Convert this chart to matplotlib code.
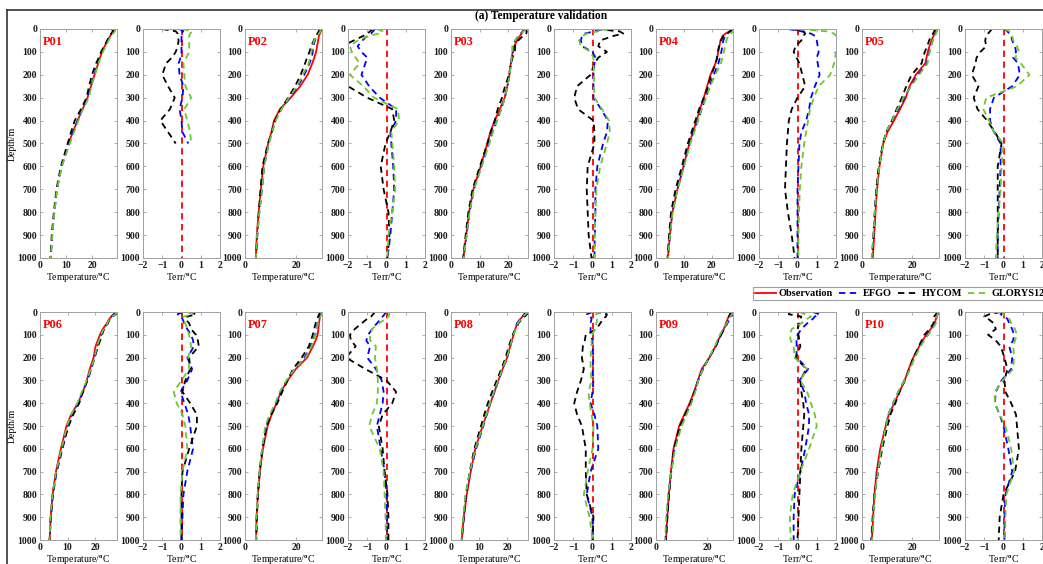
import numpy as np
import matplotlib.pyplot as plt
from matplotlib.lines import Line2D

plt.rcParams['font.family'] = ['Liberation Serif', 'DejaVu Serif']
plt.rcParams['font.weight'] = 'bold'
plt.rcParams['mathtext.fontset'] = 'custom'
plt.rcParams['mathtext.rm'] = 'Liberation Serif:bold'
plt.rcParams['mathtext.it'] = 'Liberation Serif:bold'

# depth levels (m)
depth = [0, 10, 20, 30, 50, 75, 100, 125, 150, 200, 250, 300, 350, 400, 450, 500,
         600, 700, 800, 900, 1000]

stations = ['P01', 'P02', 'P03', 'P04', 'P05', 'P06', 'P07', 'P08', 'P09', 'P10']

# observed temperature (degC); P01 only reaches 500 m
obs_p01 = [28.6, 28.2, 27.5, 26.9, 25.9, 24.8, 23.7, 23.0, 22.3, 20.9, 19.5, 18.2, 16.3, 14.4, 12.6, 10.9]
obs_p02 = [29.8, 29.6, 29.2, 28.8, 28.5, 28.1, 27.7, 27.0, 26.2, 24.4, 21.5, 17.8, 13.6, 11.3, 10.3, 9.0, 7.1, 6.2, 5.3, 4.6, 4.2]
obs_p03 = [25.3, 25.0, 24.6, 24.0, 23.0, 22.0, 21.5, 21.1, 20.8, 20.3, 19.6, 18.7, 17.0, 15.2, 13.7, 12.6, 10.3, 7.8, 6.3, 5.3, 4.3]
obs_p04 = [27.7, 26.5, 25.0, 24.0, 23.2, 22.8, 22.4, 22.0, 21.4, 19.6, 18.4, 17.2, 15.8, 14.6, 13.3, 12.0, 9.9, 7.7, 5.9, 5.0, 4.3]
obs_p05 = [29.9, 29.6, 29.2, 28.6, 27.8, 27.0, 26.3, 25.8, 25.3, 21.5, 19.0, 17.5, 15.2, 12.8, 10.2, 8.5, 7.0, 6.0, 5.4, 4.9, 4.3]
obs_p06 = [27.4, 27.0, 26.0, 25.2, 24.3, 22.8, 21.8, 21.0, 20.2, 19.5, 18.1, 17.0, 15.6, 13.8, 11.3, 9.6, 7.6, 5.8, 4.6, 3.9, 3.5]
obs_p07 = [29.8, 29.6, 29.3, 29.1, 28.8, 28.6, 28.3, 27.5, 26.5, 24.2, 19.8, 16.6, 14.0, 12.3, 10.4, 8.8, 7.0, 5.8, 5.0, 4.5, 4.3]
obs_p08 = [26.9, 26.2, 25.4, 24.6, 23.5, 22.8, 22.2, 21.6, 21.0, 19.9, 18.3, 16.8, 15.4, 14.0, 12.6, 11.2, 8.6, 7.0, 5.6, 4.5, 3.8]
obs_p09 = [30.0, 29.2, 28.3, 27.9, 27.3, 26.4, 25.3, 24.2, 23.2, 20.8, 17.8, 16.3, 14.8, 13.1, 11.0, 9.0, 6.8, 5.8, 5.0, 4.4, 3.9]
obs_p10 = [30.2, 30.0, 29.6, 29.3, 28.8, 27.2, 25.5, 24.0, 22.7, 20.3, 18.5, 16.9, 14.8, 12.8, 10.6, 9.4, 7.2, 5.8, 4.9, 4.4, 3.9]

# model minus observation (degC)
efgo_p01 = [-0.1, 0.1, -0.05, 0.0, 0.0, 0.0, 0.0, -0.05, -0.15, -0.1, 0.1, 0.05, -0.1, 0.0, 0.05, 0.35]
hycom_p01 = [-1.0, -0.3, -0.2, -0.2, -0.15, -0.2, -0.3, -0.5, -0.8, -1.0, -0.7, -0.35, -0.6, -1.1, -0.7, -0.3]
glorys_p01 = [0.05, 0.55, 0.45, 0.4, 0.4, 0.4, 0.4, 0.25, 0.1, 0.15, 0.2, 0.5, 0.15, 0.3, 0.45, 0.5]

efgo_p02 = [-0.6, -0.7, -0.8, -1.0, -1.25, -1.5, -1.3, -1.0, -1.1, -1.3, -0.9, -0.35, 0.5, 0.5, 0.2, 0.25, 0.35, 0.4, 0.3, 0.2, 0.05]
hycom_p02 = [-0.7, -0.85, -1.0, -1.2, -1.7, -2.3, -2.6, -2.8, -2.8, -2.7, -2.0, -1.0, 0.3, 0.4, 0.2, -0.05, -0.3, -0.15, 0.1, 0.15, 0.05]
glorys_p02 = [-0.5, -0.2, -0.4, -0.9, -1.5, -1.9, -1.8, -1.6, -1.4, -1.9, -1.2, -0.65, 0.6, 0.65, 0.25, 0.3, 0.4, 0.45, 0.3, 0.1, 0.05]

efgo_p03 = [0.45, 0.1, -0.4, -0.55, -0.6, -0.55, 0.0, 0.15, 0.1, 0.05, 0.05, 0.05, 0.45, 0.8, 0.75, 0.55, 0.25, 0.15, 0.15, 0.12, 0.1]
hycom_p03 = [0.2, 1.4, 1.6, 1.1, 0.4, 0.3, 0.75, 0.3, 0.1, -0.1, -0.8, -0.95, -0.75, 0.05, 0.1, 0.1, -0.25, -0.3, -0.25, -0.2, -0.05]
glorys_p03 = [0.9, 0.3, -0.3, -0.5, -0.7, -0.6, -0.1, 0.05, 0.05, 0.07, 0.07, 0.1, 0.5, 0.85, 0.9, 0.75, 0.4, 0.2, 0.15, 0.12, 0.1]

efgo_p04 = [-0.5, 0.2, 0.7, 0.9, 1.0, 1.05, 1.1, 1.0, 1.05, 1.15, 0.9, 0.7, 0.6, 0.45, 0.2, 0.1, 0.05, 0.0, 0.0, 0.0, 0.0]
hycom_p04 = [-0.3, 0.3, 0.4, 0.3, 0.2, -0.1, -0.2, -0.05, 0.1, 0.25, 0.4, 0.0, -0.3, -0.45, -0.5, -0.55, -0.6, -0.65, -0.5, -0.3, -0.15]
glorys_p04 = [0.1, 1.5, 1.9, 2.0, 2.1, 2.1, 2.0, 1.95, 1.9, 1.7, 1.1, 0.85, 0.65, 0.55, 0.45, 0.35, 0.2, 0.12, 0.08, 0.05, 0.05]

efgo_p05 = [0.05, 0.2, 0.3, 0.4, 0.45, 0.6, 0.65, 0.5, 0.75, 0.85, 0.45, -0.5, -0.7, -0.7, -0.5, -0.15, -0.15, -0.2, -0.25, -0.3, -0.3]
hycom_p05 = [-0.6, -0.7, -0.8, -0.9, -0.95, -0.9, -1.2, -1.4, -1.45, -1.65, -1.3, -1.55, -1.35, -0.85, -0.45, -0.1, -0.3, -0.3, -0.3, -0.3, -0.3]
glorys_p05 = [0.05, 0.3, 0.4, 0.45, 0.5, 0.7, 0.8, 0.6, 0.9, 1.35, 0.7, -0.9, -1.05, -0.75, -0.5, 0.0, -0.1, -0.15, -0.25, -0.35, -0.4]

efgo_p06 = [0.05, -0.2, -0.05, 0.05, 0.15, 0.3, 0.5, 0.6, 0.65, 0.3, 0.55, 0.3, -0.05, 0.15, 0.35, 0.45, 0.6, 0.3, 0.1, 0.05, 0.0]
hycom_p06 = [0.4, 0.75, 0.3, 0.2, 0.4, 0.5, 0.75, 0.85, 0.9, 0.4, 0.45, 0.2, 0.05, 0.45, 0.8, 0.8, 0.4, 0.05, 0.0, 0.0, 0.0]
glorys_p06 = [0.3, 0.6, 0.1, 0.05, 0.2, 0.3, 0.4, 0.45, 0.5, 0.35, 0.4, 0.0, -0.4, -0.25, 0.05, 0.2, 0.3, 0.05, -0.05, -0.05, -0.05]

efgo_p07 = [-0.05, -0.1, -0.2, -0.3, -0.5, -0.75, -0.95, -1.05, -0.85, -1.0, -0.55, -0.25, -0.15, -0.2, -0.35, -0.5, -0.3, -0.1, 0.0, 0.02, 0.03]
hycom_p07 = [-0.6, -0.7, -0.8, -1.0, -1.3, -1.65, -1.9, -1.85, -1.6, -2.1, -1.1, 0.0, 0.5, 0.3, -0.2, -0.4, -0.2, -0.1, 0.05, 0.1, 0.1]
glorys_p07 = [0.15, 0.15, 0.1, -0.05, -0.4, -0.75, -0.85, -0.85, -0.55, -0.6, -0.5, -0.45, -0.45, -0.5, -0.75, -0.9, -0.35, -0.15, -0.1, -0.05, -0.03]

efgo_p08 = [0.0, -0.3, -0.1, -0.05, -0.1, -0.1, -0.1, 0.0, 0.0, 0.05, 0.0, 0.05, 0.0, -0.1, 0.1, 0.25, 0.3, -0.1, -0.3, 0.0, 0.0]
hycom_p08 = [0.1, 0.75, 0.7, 0.55, 0.4, 0.2, -0.35, -0.4, -0.5, -0.55, -0.45, -0.6, -0.8, -0.95, -0.8, -0.55, -0.35, -0.35, -0.3, 0.05, 0.0]
glorys_p08 = [0.45, 0.2, 0.15, 0.25, 0.2, 0.1, 0.0, -0.05, -0.05, -0.1, -0.1, -0.05, -0.2, -0.15, -0.05, 0.05, 0.0, -0.25, -0.45, -0.15, 0.0]

efgo_p09 = [0.8, 1.15, 0.9, 0.8, 0.5, 0.2, 0.0, -0.05, -0.05, -0.05, 0.55, 0.1, 0.35, 0.45, 0.6, 0.6, 0.4, 0.15, -0.15, -0.2, -0.2]
hycom_p09 = [-0.4, -0.45, 0.2, 0.15, 0.1, 0.0, 0.05, 0.1, 0.15, -0.1, 0.45, 0.15, 0.2, 0.3, 0.35, 0.3, 0.2, 0.15, 0.1, 0.05, 0.0]
glorys_p09 = [0.1, 0.4, 0.7, 0.5, 0.2, -0.3, -0.4, -0.35, -0.2, -0.15, 0.5, 0.15, 0.5, 0.7, 0.9, 1.0, 0.6, 0.15, -0.25, -0.4, -0.35]

efgo_p10 = [0.05, -0.15, 0.05, 0.2, 0.3, 0.45, 0.55, 0.5, 0.3, 0.45, 0.4, -0.1, -0.4, -0.45, -0.2, 0.0, 0.25, 0.45, 0.1, 0.05, 0.05]
hycom_p10 = [-0.15, -0.75, -1.0, -0.8, -0.5, -0.4, -0.8, -0.4, -0.15, 0.05, 0.2, 0.05, 0.1, 0.4, 0.65, 0.7, 0.8, 0.6, 0.0, -0.2, -0.25]
glorys_p10 = [0.1, -0.05, 0.15, 0.3, 0.4, 0.6, 0.7, 0.6, 0.5, 0.55, 0.5, -0.05, -0.45, -0.45, -0.2, 0.1, 0.4, 0.55, 0.15, 0.1, 0.08]

# P01 model temperatures below the last observation (degC)
deep_depth_p01 = [600, 700, 800, 900, 1000]
efgo_deep_p01 = [8.3, 6.5, 5.5, 4.7, 4.1]
hycom_deep_p01 = [8.0, 6.3, 5.3, 4.5, 4.0]
glorys_deep_p01 = [8.3, 6.5, 5.5, 4.7, 4.1]

temp_xmax = [29.5, 30.0, 26.8, 27.7, 30.8, 28.0, 30.0, 27.3, 30.0, 30.5]
temp_xticks = [[0, 10, 20], [0, 20], [0, 10, 20], [0, 10, 20], [0, 20],
               [0, 10, 20], [0, 20], [0, 10, 20], [0, 20], [0, 20]]

obs_all = [obs_p01, obs_p02, obs_p03, obs_p04, obs_p05, obs_p06, obs_p07, obs_p08, obs_p09, obs_p10]
efgo_all = [efgo_p01, efgo_p02, efgo_p03, efgo_p04, efgo_p05, efgo_p06, efgo_p07, efgo_p08, efgo_p09, efgo_p10]
hycom_all = [hycom_p01, hycom_p02, hycom_p03, hycom_p04, hycom_p05, hycom_p06, hycom_p07, hycom_p08, hycom_p09, hycom_p10]
glorys_all = [glorys_p01, glorys_p02, glorys_p03, glorys_p04, glorys_p05, glorys_p06, glorys_p07, glorys_p08, glorys_p09, glorys_p10]
deep_all = {'EFGO': efgo_deep_p01, 'HYCOM': hycom_deep_p01, 'GLORYS12': glorys_deep_p01}

model_names = ['EFGO', 'HYCOM', 'GLORYS12']
model_colors = ['#0000ff', '#000000', '#6cc832']
dash = (0, (3.5, 2.5))
lw = 1.3
fs = 7

W, H = 1043, 564
fig = plt.figure(figsize=(W / 100, H / 100), dpi=100)

temp_left = [40, 245, 451, 656, 862]
err_left = [143, 348, 554, 759, 965]
row_top = [29, 312]
row_bot = [258, 540]
ax_w = 77
spine_c = '#a0a0a0'


def style(ax):
    ax.set_ylim(1000, 0)
    ax.set_yticks(range(0, 1001, 100))
    ax.tick_params(direction='in', length=2, width=0.6, color=spine_c, labelcolor='#1a1a1a',
                   labelsize=fs, pad=2, top=True, right=True)
    for s in ax.spines.values():
        s.set_color(spine_c)
        s.set_linewidth(0.7)


for i, name in enumerate(stations):
    row, col = i // 5, i % 5
    y0 = 1 - row_bot[row] / H
    hh = (row_bot[row] - row_top[row]) / H
    obs = np.array(obs_all[i])
    dep = np.array(depth[:len(obs)])
    errs = [np.array(efgo_all[i]), np.array(hycom_all[i]), np.array(glorys_all[i])]

    # temperature panel
    ax = fig.add_axes([temp_left[col] / W, y0, ax_w / W, hh])
    ax.plot(obs, dep, color='#ff0000', lw=lw)
    for mname, c, e in zip(model_names, model_colors, errs):
        t = obs + e
        d = dep
        if len(obs) < len(depth):
            t = np.concatenate([t, deep_all[mname]])
            d = np.concatenate([dep, deep_depth_p01])
        ax.plot(t, d, color=c, lw=lw, ls=dash)
    style(ax)
    ax.set_xlim(0, temp_xmax[i])
    ax.set_xticks(temp_xticks[i])
    ax.set_xlabel(r'Temperature/$^{\mathrm{o}}$C', fontsize=fs, labelpad=1.2)
    ax.text(0.03, 0.945, name, transform=ax.transAxes, color='#ff0000', fontsize=8.8,
            fontweight='bold', va='center', ha='left')
    if col == 0:
        ax.set_ylabel('Depth/m', fontsize=fs, labelpad=1)

    # error panel
    ax = fig.add_axes([err_left[col] / W, y0, ax_w / W, hh])
    ax.plot([0, 0], [0, 1000], color='#ff0000', lw=lw, ls=dash)
    for c, e in zip(model_colors, errs):
        ax.plot(e, dep, color=c, lw=lw, ls=dash)
    style(ax)
    ax.set_xlim(-2, 2)
    ax.set_xticks([-2, -1, 0, 1, 2])
    ax.set_xlabel(r'Terr/$^{\mathrm{o}}$C', fontsize=fs, labelpad=1.2)

# legend between the rows
handles = [Line2D([], [], color='#ff0000', lw=lw)]
handles += [Line2D([], [], color=c, lw=lw, ls=dash) for c in model_colors]
leg = fig.legend(handles, ['Observation'] + model_names, loc='center left',
                 bbox_to_anchor=(753 / W, 1 - 293.5 / H), ncol=4, fontsize=7.4,
                 frameon=True, fancybox=False, framealpha=1, borderpad=0.2,
                 handlelength=2.0, handletextpad=0.3, columnspacing=0.6, borderaxespad=0)
leg.get_frame().set_edgecolor(spine_c)
leg.get_frame().set_linewidth(0.8)

fig.text(541 / W, 1 - 15.5 / H, '(a) Temperature validation', fontsize=8.3,
         fontweight='bold', ha='center', va='center')

# outer frame (top and left edges)
fig.add_artist(Line2D([7 / W, 1], [1 - 10 / H, 1 - 10 / H], transform=fig.transFigure,
                      color='#333333', lw=1.2))
fig.add_artist(Line2D([7 / W, 7 / W], [0, 1 - 10 / H], transform=fig.transFigure,
                      color='#333333', lw=1.2))

fig.savefig('out.png', dpi=100)
